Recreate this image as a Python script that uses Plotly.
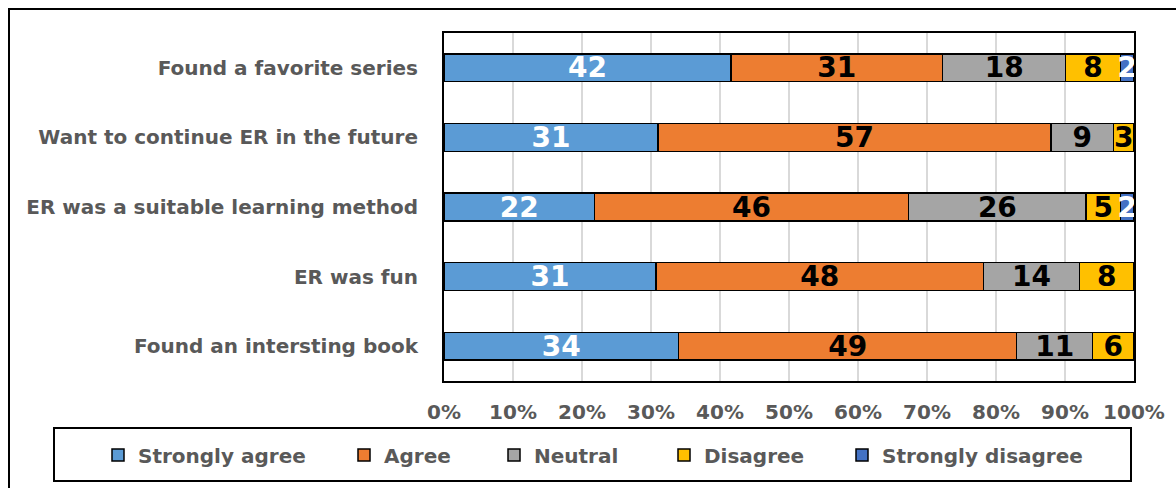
import plotly.graph_objects as go

categories = [
    "Found a favorite series",
    "Want to continue ER in the future",
    "ER was a suitable learning method",
    "ER was fun",
    "Found an intersting book",
]
series_names = ["Strongly agree", "Agree", "Neutral", "Disagree", "Strongly disagree"]
strongly_agree = [42, 31, 22, 31, 34]
agree = [31, 57, 46, 48, 49]
neutral = [18, 9, 26, 14, 11]
disagree = [8, 3, 5, 8, 6]
strongly_disagree = [2, 0, 2, 0, 0]
tick_vals = [0, 10, 20, 30, 40, 50, 60, 70, 80, 90, 100]
tick_text = ["0%", "10%", "20%", "30%", "40%", "50%", "60%", "70%", "80%", "90%", "100%"]

colors = ["#5B9BD5", "#ED7D31", "#A5A5A5", "#FFC000", "#4472C4"]
label_colors = ["white", "black", "black", "black", "white"]
all_values = [strongly_agree, agree, neutral, disagree, strongly_disagree]

FONT = "DejaVu Sans"
GRAY = "#595959"

# plot area in pixels
W, H = 1176, 488
L, R, T, B = 444, 1134, 33, 381
pw, ph = R - L, B - T


def px(x):
    return (x - L) / pw


def py(y):
    return (B - y) / ph


fig = go.Figure()
legend_text_starts = [138, 384, 534, 704, 882]
for i, (name, vals) in enumerate(zip(series_names, all_values)):
    lname = "legend" if i == 0 else f"legend{i+1}"
    fig.add_trace(go.Bar(
        y=categories, x=vals, name=name, orientation="h",
        marker=dict(color=colors[i], line=dict(color="black", width=1.5)),
        text=[str(v) if v else "" for v in vals],
        textposition="inside", insidetextanchor="middle", textangle=0,
        constraintext="none",
        textfont=dict(family=FONT, size=28, color=label_colors[i], weight="bold"),
        legend=lname, showlegend=True, hoverinfo="skip",
    ))

layout_legends = {}
for i in range(5):
    lname = "legend" if i == 0 else f"legend{i+1}"
    layout_legends[lname] = dict(
        x=px(legend_text_starts[i] - 40), xanchor="left",
        y=py(455), yanchor="middle", orientation="h",
        bgcolor="rgba(0,0,0,0)", borderwidth=0,
        font=dict(family=FONT, size=20, color=GRAY, weight="bold"),
    )

fig.update_layout(
    showlegend=True,
    barmode="stack", barnorm="percent", bargap=0.6,
    width=W, height=H,
    margin=dict(l=L, r=W - R, t=T, b=H - B),
    paper_bgcolor="white", plot_bgcolor="white",
    xaxis=dict(range=[0, 100], tickvals=tick_vals, ticktext=tick_text,
               showgrid=True, gridcolor="#D9D9D9", gridwidth=1.5,
               showline=True, linecolor="black", linewidth=2, mirror=True,
               zeroline=False, ticks="", ticklabelstandoff=12,
               tickfont=dict(family=FONT, size=20, color=GRAY, weight="bold")),
    yaxis=dict(autorange="reversed", showline=True, linecolor="black", linewidth=2,
               mirror=True, ticks="", ticklabelstandoff=20,
               tickfont=dict(family=FONT, size=20, color=GRAY, weight="bold")),
    shapes=[
        dict(type="rect", xref="paper", yref="paper",
             x0=px(9), x1=px(1200), y0=py(520), y1=py(9),
             line=dict(color="black", width=2), fillcolor="rgba(0,0,0,0)"),
        dict(type="rect", xref="paper", yref="paper",
             x0=px(54), x1=px(1131), y0=py(481), y1=py(428),
             line=dict(color="black", width=2), fillcolor="rgba(0,0,0,0)"),
    ],
    **layout_legends,
)

fig.write_html("out.html")
